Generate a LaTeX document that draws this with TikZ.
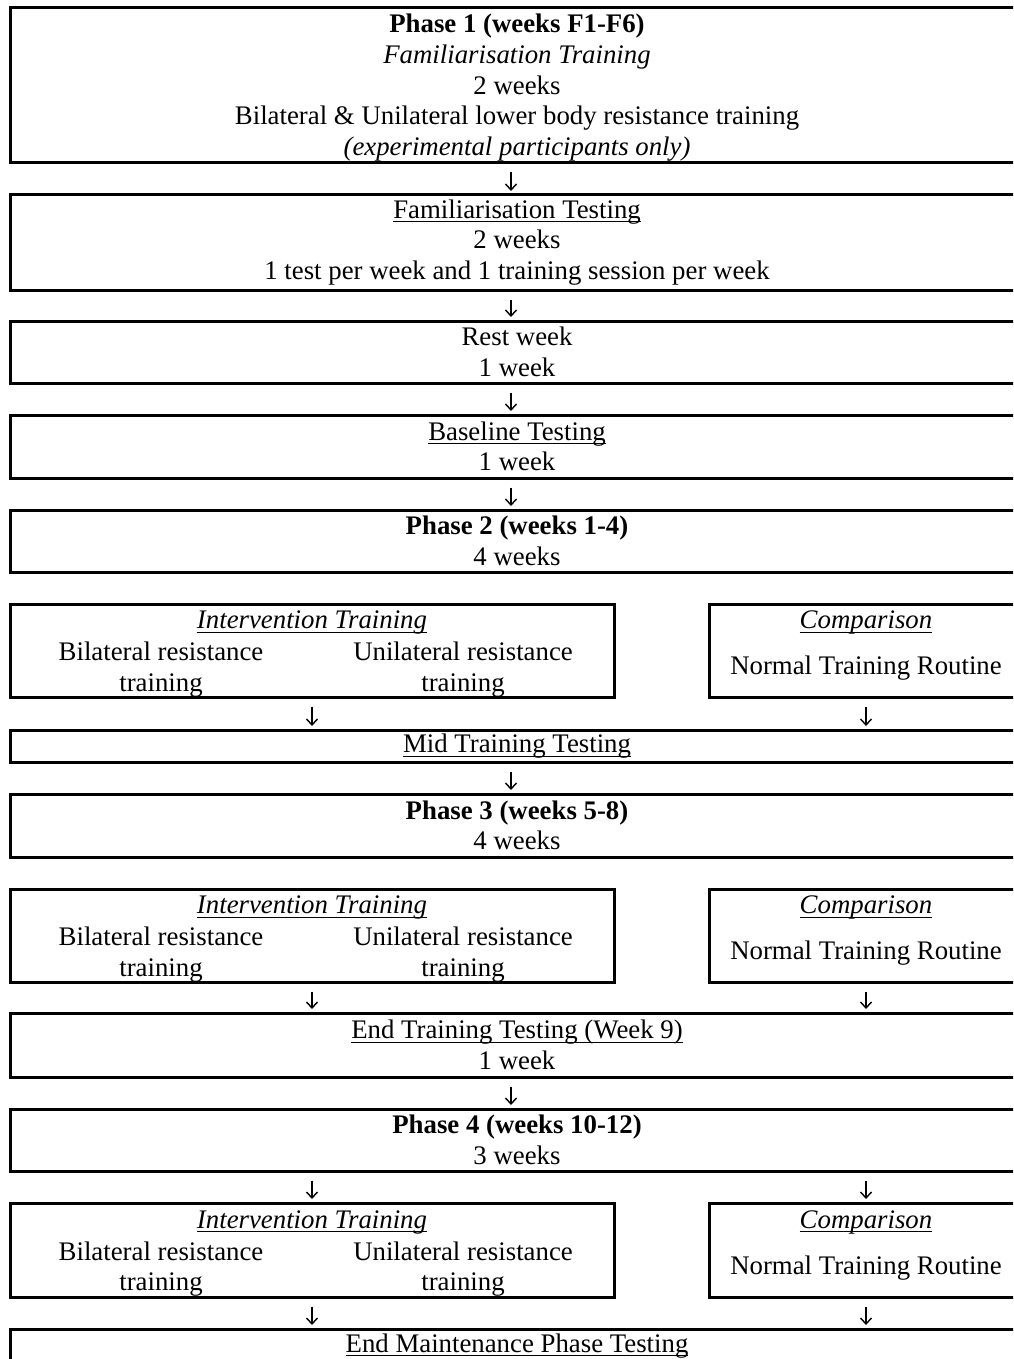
\documentclass[tikz,border=0pt]{standalone}
\usepackage{amsmath}
\usepackage{fontspec}
\setmainfont{Liberation Serif}
\usetikzlibrary{arrows.meta}
\newcommand{\ulined}[1]{\underline{\smash[b]{#1}}}

\begin{document}
\begin{tikzpicture}[x=1pt,y=-1pt,
		block/.style={draw,line width=3pt,inner sep=0pt,align=center,font=\fontsize{26.8}{30.5}\selectfont},
		fullbox/.style={block,minimum width=1014pt},
		txt/.style={inner sep=0pt,align=center,font=\fontsize{26.8}{30.5}\selectfont},
		flow/.style={-{Straight Barb[length=6pt,width=11pt]},line width=1.4pt,shorten <=8pt,shorten >=2.5pt}
		]
		\useasboundingbox (0,0) rectangle (1013,1359);
		\clip (0,0) rectangle (1013,1359);
		%Draw phase 1 and testing blocks
		\path (517,85.5) node[fullbox,minimum height=155pt] (phaseone) {}
		+(0,1.75) node[txt] (phaseonetext) {\textbf{Phase 1 (weeks F1-F6)}\\[1pt]\textit{Familiarisation Training}\\2 weeks\\Bilateral \& Unilateral lower body resistance training\\\textit{(experimental participants only)}}
		(517,242.5) node[fullbox,minimum height=95pt] (famtest) {\ulined{Familiarisation Testing}\\2 weeks\\1 test per week and 1 training session per week}
		(517,352) node[fullbox,minimum height=62pt] (restweek) {Rest week\\1 week}
		(517,446.5) node[fullbox,minimum height=63pt] (basetest) {\ulined{Baseline Testing}\\1 week}
		(517,541) node[fullbox,minimum height=62pt] (phasetwo) {\textbf{Phase 2 (weeks 1-4)}\\4 weeks};
		
		%Phase 2 training
		\path (312,650.5) node[block,minimum width=604pt,minimum height=93pt] (intvA) {}
		+(0,-28) node[txt] (intvAtitle) {\ulined{\textit{Intervention Training}}}
		+(-151,19.25) node[txt] (intvAbi) {Bilateral resistance\\training}
		+(151,19.25) node[txt] (intvAuni) {Unilateral resistance\\training}
		(866,650.5) node[block,minimum width=314pt,minimum height=93pt] (compA) {}
		+(0,-4.9) node[txt] (compAtext) {\ulined{\textit{Comparison}}\\[15.5pt]Normal Training Routine};
		\path (517,746) node[fullbox,minimum height=32pt] (midtest) {\ulined{Mid Training Testing}}
		(517,825.5) node[fullbox,minimum height=63pt] (phasethree) {\textbf{Phase 3 (weeks 5-8)}\\4 weeks};
		
		%Phase 3 training
		\path (312,935.5) node[block,minimum width=604pt,minimum height=93pt] (intvB) {}
		+(0,-28) node[txt] (intvBtitle) {\ulined{\textit{Intervention Training}}}
		+(-151,19.25) node[txt] (intvBbi) {Bilateral resistance\\training}
		+(151,19.25) node[txt] (intvBuni) {Unilateral resistance\\training}
		(866,935.5) node[block,minimum width=314pt,minimum height=93pt] (compB) {}
		+(0,-4.9) node[txt] (compBtext) {\ulined{\textit{Comparison}}\\[15.5pt]Normal Training Routine};
		\path (517,1045) node[fullbox,minimum height=64pt] (endtest) {\ulined{End Training Testing (Week 9)}\\1 week}
		(517,1140) node[fullbox,minimum height=62pt] (phasefour) {\textbf{Phase 4 (weeks 10-12)}\\3 weeks};
		
		%Phase 4 training
		\path (312,1250) node[block,minimum width=604pt,minimum height=94pt] (intvC) {}
		+(0,-28) node[txt] (intvCtitle) {\ulined{\textit{Intervention Training}}}
		+(-151,19.25) node[txt] (intvCbi) {Bilateral resistance\\training}
		+(151,19.25) node[txt] (intvCuni) {Unilateral resistance\\training}
		(866,1250) node[block,minimum width=314pt,minimum height=94pt] (compC) {}
		+(0,-4.9) node[txt] (compCtext) {\ulined{\textit{Comparison}}\\[15.5pt]Normal Training Routine};
		\path (517,1345.5) node[fullbox,minimum height=33pt] (endmaint) {\ulined{End Maintenance Phase Testing}};
		
		%Draw arrows
		\draw[flow] ([xshift=-6pt]phaseone.south) -- ([xshift=-6pt]famtest.north);
		\draw[flow] ([xshift=-6pt]famtest.south) -- ([xshift=-6pt]restweek.north);
		\draw[flow] ([xshift=-6pt]restweek.south) -- ([xshift=-6pt]basetest.north);
		\draw[flow] ([xshift=-6pt]basetest.south) -- ([xshift=-6pt]phasetwo.north);
		\draw[flow] (intvA.south) -- (intvA.south |- midtest.north);
		\draw[flow] (compA.south) -- (compA.south |- midtest.north);
		\draw[flow] ([xshift=-6pt]midtest.south) -- ([xshift=-6pt]phasethree.north);
		\draw[flow] (intvB.south) -- (intvB.south |- endtest.north);
		\draw[flow] (compB.south) -- (compB.south |- endtest.north);
		\draw[flow] ([xshift=-6pt]endtest.south) -- ([xshift=-6pt]phasefour.north);
		\draw[flow] (intvC.north |- phasefour.south) -- (intvC.north);
		\draw[flow] (compC.north |- phasefour.south) -- (compC.north);
		\draw[flow] (intvC.south) -- (intvC.south |- endmaint.north);
		\draw[flow] (compC.south) -- (compC.south |- endmaint.north);
	\end{tikzpicture}
\end{document}
